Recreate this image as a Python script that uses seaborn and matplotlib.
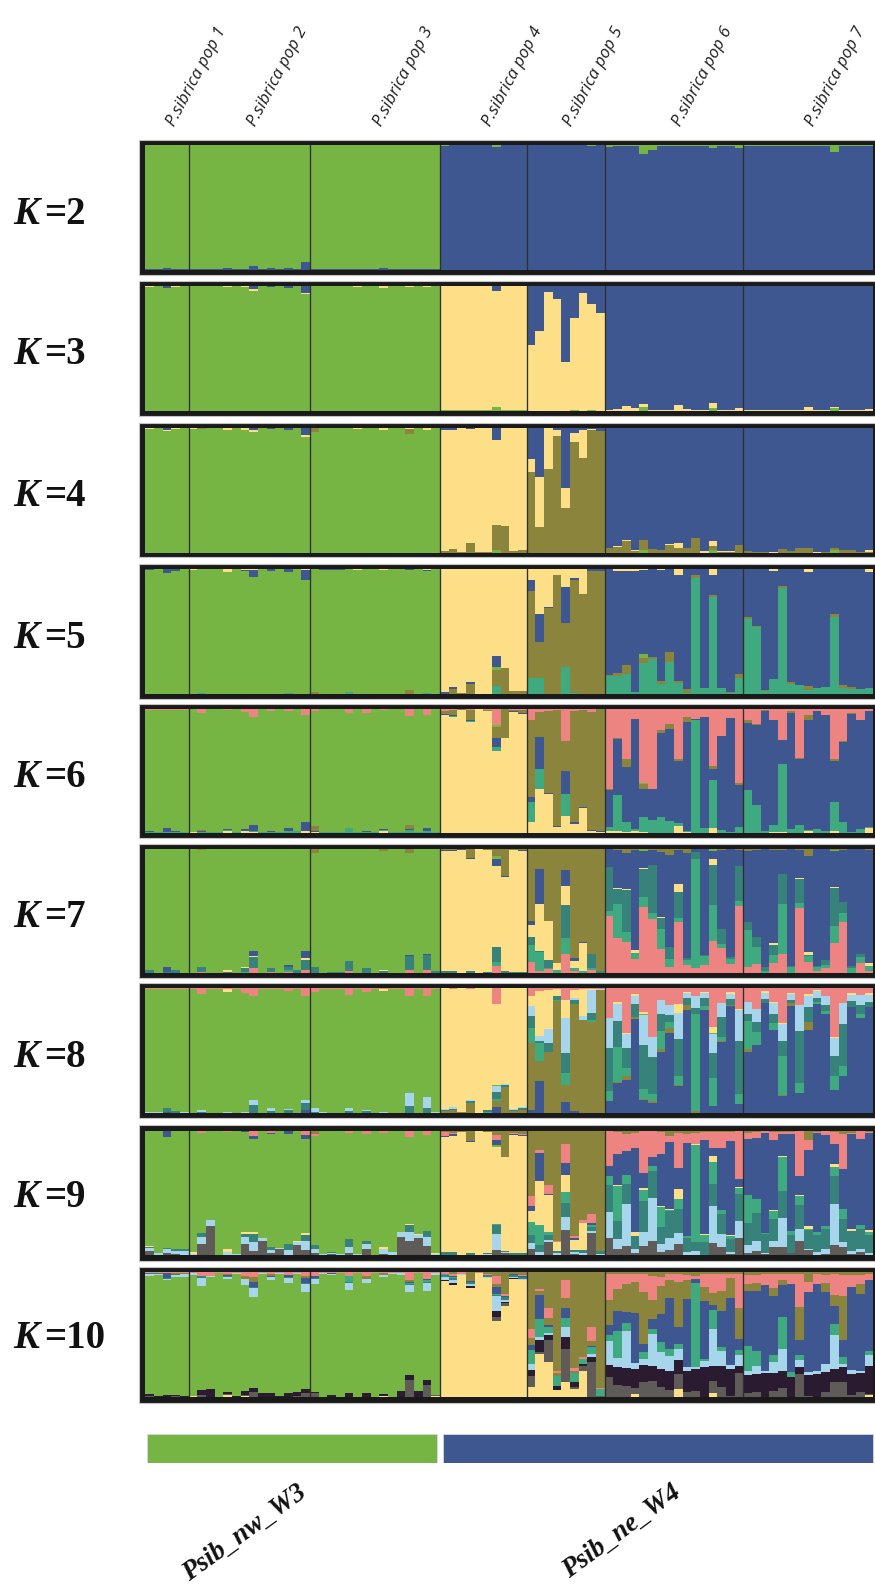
import matplotlib
matplotlib.use("Agg")
import matplotlib.pyplot as plt
from matplotlib.patches import Rectangle
import numpy as np
import pandas as pd
import seaborn as sns

pop_names = ["P.sibrica pop 1", "P.sibrica pop 2", "P.sibrica pop 3", "P.sibrica pop 4",
             "P.sibrica pop 5", "P.sibrica pop 6", "P.sibrica pop 7"]
pop_sizes = [5, 14, 15, 10, 9, 16, 15]
group_names = ["Psib_nw_W3", "Psib_ne_W4"]
group_sizes = [34, 50]

# ---- K=2
k2_blue = [.3,.3,1,.8,.3, .3,.3,.3,.3,1,.3,.5,2.5,.3,1,.3,1.2,.3,6, .5,.3,.3,.3,.3,.3,.3,.3,1.2,.3,.3,.8,.3,.8,.3,
           99.5,99.7,99.7,99.7,99.7,99.7,98.5,99.7,99.7,99.7, 99.7,99.7,99.7,99.7,99.7,99.7,99.7,99.2,99.7,
           98.5,99.5,99.5,99.5,93,96,99.5,99.5,99,99.5,99.5,99.5,97.5,99.5,99.5,97.5,
           99.5,98.8,99.5,99.5,98.8,99.5,99.5,99.5,99.5,99.5,94,99.5,99.5,99.5,99.5]
k2_green = [99.7,99.7,99,99.2,99.7, 99.7,99.7,99.7,99.7,99,99.7,99.5,97.5,99.7,99,99.7,98.8,99.7,94, 99.5,99.7,99.7,99.7,99.7,99.7,99.7,99.7,98.8,99.7,99.7,99.2,99.7,99.2,99.7,
            .5,.3,.3,.3,.3,.3,1.5,.3,.3,.3, .3,.3,.3,.3,.3,.3,.3,.8,.3,
            1.5,.5,.5,.5,7,4,.5,.5,1,.5,.5,.5,2.5,.5,.5,2.5,
            .5,1.2,.5,.5,1.2,.5,.5,.5,.5,.5,6,.5,.5,.5,.5]
# ---- K=3
k3_green = [99.2,99.4,98.2,99.2,99.4, 99.4,99.4,99.4,99.4,98.7,99.4,98.7,96,99.4,98.9,99.4,98,99.4,93,
            99.4,99.4,99.4,99.4,99.4,98.9,99.4,99.4,98.4,99.4,99.4,99.2,99.4,98.7,99.4,
            .2,.2,.2,.2,.2,.2,3,.2,.2,.2, 0,0,0,0,0,.5,0,.8,0,
            0,0,0,0,3,0,0,0,0,0,0,0,2,0,0,0, 0,0,0,0,0,0,0,0,0,0,2.5,0,0,0,0]
k3_yellow = [.3,.3,.3,.3,.3, .3,.3,.3,.3,1,.3,.8,1.5,.3,.3,.3,.5,.3,1.5, .3,.3,.3,.3,.3,.8,.3,.3,1.3,.3,.3,.3,.3,1,.3,
             99.3,99.5,99.5,99.5,99.8,99.8,92.5,99.7,99.8,99.5, 52.5,64,95,89,39,73.5,94.4,84.7,78.5,
             .5,1.5,4,2.5,2.5,.6,.5,.4,4.5,1,.3,.3,4,.3,.3,2, .3,.3,.3,.3,.8,.3,.3,3,.3,.3,.3,.3,.3,.3,1.5]
k3_blue = [.5,.3,1.5,.5,.3, .3,.3,.3,.3,.3,.3,.5,2.5,.3,.8,.3,1.5,.3,5.5, .3,.3,.3,.3,.3,.3,.3,.3,.3,.3,.3,.5,.3,.3,.3,
           .5,.3,.3,.3,0,0,4.5,.1,0,.3, 47.5,36,5,11,61,26,5.6,14.5,21.5,
           99.5,98.5,96,97.5,94.5,99.4,99.5,99.6,95.5,99,99.7,99.7,94,99.7,99.7,98,
           99.7,99.7,99.7,99.7,99.2,99.7,99.7,97,99.7,99.7,97.2,99.7,99.7,99.7,98.5]
# ---- K=4
k4_green = [99,99.4,97.4,99,99.4, 99,98.4,99.7,99.7,98,99.7,98.5,96.5,99.7,98.9,99.7,98,99.7,92.5,
            96.7,99.5,99.5,99.5,99.5,99.2,99.7,99.7,98.2,99.7,99.7,94.7,99.7,98.2,99.7,
            0,0,0,0,0,0,2.5,0,0,0, 0,0,0,0,0,0,0,0,0,
            0,0,0,0,2.5,0,0,0,0,0,0,0,2,0,0,0, 0,0,0,0,0,0,0,0,0,0,2,0,0,0,0]
k4_olive = [0,0,0,0,0, 0,.8,0,0,0,0,0,0,0,0,0,0,0,0, 3,0,0,0,0,0,0,0,0,0,0,4.5,0,0,0,
            1.5,3,.3,7.5,.5,.3,20,21,1,2.5, 64,21,67,91.5,36,88,75,98,97,
            4,4.5,9.5,1,7.5,3,2.5,6.5,3.5,3.5,12,0,3,.5,.5,6, 1.5,.3,.3,0,3,1,3.5,4,0,.3,2,2,2,.3,.5]
k4_yellow = [.3,.3,.3,.5,.3, 1,.5,.3,.3,2,.3,1,1.5,.3,.3,.3,.5,.3,2, .3,.3,.3,.3,.3,.8,.3,.3,1.8,.3,.3,.3,.3,1.5,.3,
             97,95.5,99.4,91.2,99.5,99.7,68,79,98.4,97.5, 10.5,39.5,32,5,15.5,7,23,1,.5,
             0,.5,.5,1,.5,0,0,.5,4,0,0,1,4,.5,.5,0, 0,0,0,.8,0,0,0,0,.5,0,0,0,0,0,1.5]
k4_blue = [.5,.3,2,.5,.3, 0,0,0,0,0,0,.5,2,0,.8,0,1.5,0,5.5, 0,.2,.2,.2,.2,0,0,0,0,0,0,.5,0,.3,0,
           1.5,1.5,.3,1.3,0,0,9.5,0,.6,0, 25,40,.5,1.5,48.5,4.5,1.5,1,2.5,
           96,95,90,98,89.5,97,97.5,93,92.5,96.5,88,99,91,99,99,94, 98.5,99.7,99.7,99.2,97,99,96.5,96,99.5,99.7,96,98,98,99.7,98]
# ---- K=5
k5_teal = [.3,.3,.3,.3,.3, .3,.8,.3,.3,.3,.3,.5,.5,.3,.3,.3,1,.5,.5, .3,.3,.3,.3,1.5,.3,.5,.3,.5,.3,.3,.5,.3,.8,.3,
           0,.3,0,.5,0,0,6.5,0,0,0, 13,13,.3,0,22,1,0,.5,0,
           14.7,15,16,1.5,25,28.5,8,26,9,1.3,93,5,77.5,5,1.3,13.4, 60,54,2.7,12.5,84.5,8.5,7.5,3.2,5,6,62,5.3,4.2,4.2,5]
k5_olive = [0,0,0,0,0, 0,0,0,0,0,0,0,0,0,0,0,0,0,0, 1.5,0,0,0,0,0,0,0,0,0,0,3,0,0,0,
            .5,4,.8,8,0,.5,12.5,21,2.4,3, 69,28.5,68.7,95,35,91,80,98,98,
            .5,2,7,.3,3.7,1,2.7,7.5,1.3,2.7,2,.3,2,0,.3,2.7, 1.6,.5,.7,0,1.8,1.5,0,3.5,0,0,2,2,1.5,0,0]
k5_green = [99.2,99.4,96.7,98.4,99.4, 99.2,98.9,99.5,99.5,97.2,99.5,96.7,93.5,99.5,98.5,99.5,96.7,99.3,91,
            97.9,99.2,99.2,99.2,98.3,99.2,99.3,99.5,98.5,99.5,99.5,95.6,99.5,97.7,99.5,
            0,0,0,0,0,0,2.7,0,0,0, 0,0,0,0,0,0,0,0,0,
            0,0,0,0,3.7,0,0,0,0,0,0,0,0,0,0,0, 0,0,0,0,0,0,0,0,0,0,0,0,0,0,0]
k5_blue = [.5,.3,3,1,.3, 0,0,0,0,0,0,1,5,0,1,0,2,0,8, 0,.3,.3,.3,0,0,0,0,0,0,0,.7,0,.5,0,
           1.5,1.3,0,1,0,0,9,0,.3,0, 9,22.7,1,.5,29,1.5,0,1.5,1.5,
           84.5,81.5,75.5,96.4,66.6,70.2,88.5,66.2,85.2,95.7,5,94.4,15.5,94.7,98.1,83.9,
           38.1,45.2,96.3,86,13.4,89.7,92.2,91.3,94.7,93.7,35.7,92.4,94,95.5,93]
k5_yellow = [0,0,0,.3,0, .5,.3,.2,.2,2.5,.2,.8,1,.2,.2,.2,.3,.2,.5, .3,.2,.2,.2,.2,.5,.2,.2,1,.2,.2,.2,.2,1,.2,
             98,94.4,99.2,90.5,100,99.5,69.3,79,97.3,97, 8.5,36,30,4.5,14,7,20,0,0,
             .3,1.5,1.5,1.8,1,.3,.8,.3,4.5,.3,0,.3,5,.3,.3,0, .3,.3,.3,1.5,.3,.3,.3,2,.3,.3,.3,.3,.3,.3,2]
# ---- K=6
k6_yellow = [0,0,0,0,0, .3,0,0,0,1.5,0,1,.5,0,0,0,0,0,1, .5,0,0,0,0,0,0,0,1.5,0,0,0,0,0,0,
             95,93.5,99,89.5,100,98.5,66,76.7,97.5,96, 8.7,35,31,5,13.5,6.8,20,1.5,.5,
             1.3,1,.5,1.5,.5,0,0,0,5.4,.3,0,0,4,0,0,0, 0,0,0,.5,.3,0,0,1.3,0,0,1,0,0,0,3.5]
k6_teal = [.3,.3,.3,.5,.3, .3,.3,.3,.3,.3,.3,.5,1,.3,.3,.3,1.5,1,.5, .3,.3,.3,.3,3.5,.3,.5,.3,.3,.3,.3,2.5,.3,1.5,.3,
           0,.5,0,1,0,0,3.3,0,0,0, 15.7,16,.5,0,18,0,0,0,0,
           3.5,29,8,1.5,12.5,10.5,13,9.5,2.7,1.3,91,4,38.5,2,.5,4.6, 34.7,23,1,6,55,3,6,1,2.7,1,23.5,8.7,.5,2.7,1]
k6_blue = [1,.5,3.5,1,.5, .3,1,.3,.3,1,.3,1.5,4.5,.3,1,.3,2,.3,7, .5,.3,.5,.5,.3,.3,.8,.3,1,.3,.3,.3,.3,2,.3,
           1.3,1.3,0,.5,0,0,7.6,0,.5,.5, 4,26,.5,.5,18,2.2,.5,1,.5,
           30,45,44,89.5,23,25,67.5,74.5,49.6,88,.8,89.5,9,76,92,34, 54.7,65,97.5,85,20,93.5,53.5,89,95.7,94,33,64.5,96,88.6,94]
k6_olive = [0,0,0,0,0, 0,.5,0,0,0,0,0,0,0,0,0,0,0,0, 4,0,0,0,0,0,0,0,0,0,0,3.5,0,0,0,
            2.2,3.5,1,8.5,0,.8,8.7,23.3,1.5,3, 62.3,20,66,94,24,89,79,95,99,
            .5,1.3,6,0,3.5,0,2.7,4,2,4,0,0,2,0,0,1.6, 2,1,1,0,0,1,.5,4.3,0,0,2,1,1,0,0]
k6_green = [98.2,98.7,95.7,98,98.7, 99.1,95.2,99.1,99.1,96.2,99.1,94.5,87.5,99.1,96.4,99.1,94.2,98.4,86.5,
            92.7,99.1,98.9,98.9,92.9,99.1,95.5,99.1,96.7,99.1,99.1,87.9,99.1,91.2,99.1,
            0,0,0,0,0,0,2,0,0,0, 0,0,0,0,0,0,0,0,0,
            0,0,0,0,1.3,0,0,0,0,0,0,0,0,0,0,0, 0,0,0,0,0,0,0,0,0,0,0,0,0,0,0]
k6_pink = [.5,.5,.5,.5,.5, .3,3,.3,.3,1,.3,2.5,6.5,.3,2,.3,2,.3,5, 2,.3,.3,.3,3,.3,3,.3,.5,.3,.3,5.5,.3,5,.3,
           1.5,1.2,0,.5,0,.7,12.7,0,.5,.5, 9,2.4,1.5,.5,26,2,.5,2.5,0,
           65,23,40,8,60,65,17,12,40,6.5,8,6.5,46,22,7,60, 9,12,.5,8.5,25,2,40,5,1.5,4.5,40,26,3,8.5,1.5]
# ---- K=7
k7_pink = [.3,0,.3,.3,0, 0,1,0,0,.3,0,0,4.5,0,1,0,1,0,3, .3,0,0,0,1.5,0,.5,0,.3,0,0,2.5,0,2.5,.3,
           .3,0,0,0,0,0,6,0,0,0, 9,1.5,3.7,.5,15.6,2,.5,3,0,
           46.5,28.5,24.7,11.6,53,43.5,19.6,4.8,40.9,7,4.3,7,25.8,20.4,7.5,53.8,
           5.4,7.5,0,8.3,15.9,.5,52.7,8.9,1.5,4.3,25,41,0,8.3,2]
k7_teal = [0,0,0,0,0, 0,0,0,0,0,0,1,0,0,0,0,2,0,0, 0,0,0,0,0,0,0,0,0,0,0,0,0,0,0,
           0,0,0,0,0,0,2.7,0,0,0, 13.5,16,.5,2,12.6,2,1.5,1.5,0,
           4,27.4,8.3,4.6,8,5.4,16,6.7,3.8,4,87.4,6.7,28.8,3.2,4,4.3,
           29,13.4,2,6.7,40,4.8,3.8,5.4,3.8,2.7,13.4,7.3,4.3,4.6,4]
k7_darkteal = [2.5,.5,.5,2,.5, .5,4,.5,.5,1,.5,3,9,.5,3,.5,2,2.5,8, 5,.5,.8,.8,8,.5,4,.3,1.5,.5,.5,11.5,.3,12,1.5,
               1.7,2,.5,2,0,1,12,1.5,1,1, 6.7,.5,6.5,0,27,0,0,11.3,1.6,
               35,12,33.6,.5,23,38,9,10,20.7,1.3,6,1,32.8,12,1.3,28,
               6.7,8,3.2,8,23.7,.8,19.6,.8,.8,3.8,31,8.9,1.6,2.7,0]
k7_yellow = [0,0,0,0,0, 0,0,0,0,1.5,0,.7,.5,0,0,0,0,0,1, 0,0,0,0,0,0,0,0,1,0,0,0,0,0,0,
             96,96,99,90,100,98,65.6,76,97.5,97, 9.4,37.4,31.7,5.4,15,6,22.6,0,0,
             0,.7,.7,2.1,.7,0,.5,0,6.7,0,0,0,4.8,0,0,0, 0,0,0,1.3,.5,0,.5,1.9,0,0,.5,0,0,0,2.2]
k7_blue = [0,0,4.5,.5,0, 0,0,0,0,0,0,.7,4,0,0,0,2,0,6, 0,0,0,0,0,0,0,0,0,0,0,.5,0,1,0,
           1.5,1.5,.5,.5,0,.5,5.4,.5,.5,.5, 3.5,28.5,0,0,12.6,2,.5,0,0,
           14.5,30,29,80.6,13,12.6,52.4,73.4,26.9,84.4,2.4,85,6.2,63.7,87,13.4,
           57,70.4,94.6,75,19.4,93.8,22.8,77.7,93.8,89,29.6,41.7,94,84.4,91]
k7_green = [97.2,99.5,94.7,97.2,99.5, 99.5,94,99.5,99.5,96.2,99.5,94.6,82,99.5,96,99.5,93,97.5,82,
            91.7,99.5,99.2,99.2,90.5,99.5,95.5,99.7,95.7,99.5,99.5,82.5,99.7,84.5,98.2,
            0,0,0,0,0,0,2,0,0,0, 0,0,0,0,0,0,0,0,0,
            0,0,0,0,2,0,0,0,0,0,0,0,1.5,0,0,0, 0,0,0,0,0,0,0,0,0,0,1,0,0,0,0]
k7_olive = [0,0,0,0,0, 0,1,0,0,0,0,0,0,0,0,0,0,0,0, 3,0,0,0,0,0,0,0,1.5,0,0,3,0,0,0,
            .5,.5,0,7.5,0,.5,6,22,.5,1, 58,16,57.5,92,17,87.6,75,85,97,
            0,1,3.2,.5,0,.5,2.4,5,.8,3.2,0,.3,0,.5,.2,.5, 1.6,.7,.2,.7,.5,.1,.5,5.4,.1,.2,.5,1,.1,0,.8]
# ---- K=8
k8_blue = [0,0,1,0,0, 0,0,0,0,0,0,0,.5,0,0,0,.5,0,3, 0,0,0,0,0,0,0,0,0,0,0,0,0,0,0,
           .3,.3,0,0,0,0,4.8,0,0,0, 2.7,25.8,0,0,8.9,2,0,0,0,
           10.2,24,27,75,10.8,8.6,48.4,64,21.8,82.8,0,82.8,5.6,56.7,85.5,7.5,
           49,54.6,88,66.7,13.7,85.5,16,66.7,87.6,79.6,18.8,29.6,85,76,85]
k8_olive = [0,0,0,0,0, 0,0,0,0,0,0,0,0,0,0,0,0,0,0, 0,0,0,0,0,0,0,0,0,0,0,0,0,0,0,
            1.2,2,1,8,0,.3,5.4,21,2,2.7, 53.8,15.6,49,90,13.4,84.7,74.7,72.6,98.4,
            0,.5,3.2,1.6,1,1,2.7,4.6,.5,3.5,2,0,.5,1,1,0, 2.4,0,0,0,1,2.7,0,6.7,0,0,0,0,0,0,0]
k8_teal = [0,0,0,0,0, 0,0,0,0,0,0,0,0,0,0,0,0,0,0, 0,0,0,0,0,0,0,0,0,0,0,0,0,0,0,
           0,0,0,0,0,.7,1.3,0,0,0, 12,15,0,.5,10,.5,0,1.3,0,
           8,28,6.2,0,8,6,14,4.8,7.5,0,77.4,2.7,22,3.5,0,8, 22,10.2,0,5.4,31,0,8.3,0,2,2.4,11.3,8,0,3.5,0]
k8_darkteal = [.5,.5,3,1.5,.5, .3,1,.3,.3,.3,.3,.5,6,.3,1.5,.3,2,.3,5, 1,.3,.3,.3,2,.3,1.5,.3,.3,.3,.3,6,.3,4,.3,
               .8,1,0,1.5,0,1.5,5.4,1.3,.8,1.5, 8.9,1.6,7.3,3,16,2.7,0,5.6,.3,
               33.6,21,15.6,10.8,35,29,14,5.4,29.3,5.4,5,6.2,20,15.6,4.8,42.5,
               6.2,8.6,3.2,7.5,12.6,2,41.7,11.6,3.2,4.8,15.6,33,4.6,7.3,3.8]
k8_lightblue = [.3,.3,.3,.5,.3, .3,2,.3,.3,.5,.3,.3,4,.3,2.5,.3,1,.3,3, 3.5,.5,.3,.3,2.5,.3,1.5,.3,.5,.3,.3,10.5,.3,9,1,
                1.5,1.5,0,1,0,0,4.8,1.3,.8,.5, 8,3.8,10.7,0,27.4,1.6,3.2,18.8,.5,
                24.2,13.4,11.6,6,24,16,10.8,7.8,21.5,4.6,9.4,4.6,15,11.3,4,24.7,
                9,10,5.4,8.6,13.4,5,20.4,8.6,5.4,6.7,14.2,16.7,5.4,7.5,5.6]
k8_green = [98.7,98.9,95.2,97.5,98.7, 99.1,92.5,99.1,99.1,96.4,99.1,95.2,83,99.1,95.5,99.1,94,99.1,82.5,
            92.5,98.9,99.1,99.1,90.5,99.1,94,99.1,97.4,99.1,99.1,77.5,99.1,80.5,98.4,
            0,0,0,0,0,0,1.3,0,0,0, 0,0,0,0,0,0,0,0,0,
            0,0,0,0,1,0,0,0,0,0,0,0,1,0,0,0, 0,0,0,0,0,0,0,0,0,0,0,0,0,0,0]
k8_yellow = [0,0,0,0,0, 0,0,0,0,2.5,0,.5,0,0,0,0,0,0,0, 0,0,0,0,0,0,0,0,1.5,0,0,0,0,0,0,
             96,95,99,89.5,100,97.5,64.5,76.4,96.4,95.3, 8,36,31,6,14,6.5,21.8,.5,.3,
             .5,1.3,.5,1.9,1.4,.5,.5,0,7,.5,0,.5,4.8,0,1.3,.5, .5,0,1,.5,.8,.8,0,1.9,1,0,1.3,0,1,.5,1.9]
k8_pink = [.5,.3,.5,.5,.5, .3,4.5,.3,.3,.3,.3,3.5,6.5,.3,.5,.3,2.5,.3,6.5, 3,.3,.3,.3,5,.3,3,.3,.3,.3,.3,6,.3,6.5,.3,
           0,.2,0,.5,0,0,12.4,0,0,0, 6.5,2,1.6,.5,9.7,1.6,.3,.5,.5,
           23.4,11,36,4.6,18.8,38.7,9,13.4,12.4,3,6,3,30.6,11.8,3.2,16.7,
           10.7,16.7,2.5,11.3,28,3.8,13.4,4.6,1,6.5,38.7,11.8,4,5,3.8]
# ---- K=9
k9_gray = [3.2,0,2,.5,0, 0,8.5,23.6,0,0,0,8.8,3.2,11.3,2,4.5,0,8,4, 2,0,.5,0,1.3,0,4.8,0,1,0,14.7,11.5,14,7.5,0,
           0,0,0,0,0,0,3.8,2,0,0, 4.9,0,10.3,0,19.7,1,0,17.6,0,
           13.5,4.9,7.6,2,7,11.6,2.7,4.3,8.9,0,0,0,9.7,6.2,.5,13.8, 2,3.2,1,6.2,6.2,1.6,11.6,4,0,.5,8,6.2,.8,2,0]
k9_lightblue = [2.7,2,2.7,2.5,3, .5,6,4.5,0,2.5,1,5.9,7.5,2,1.9,.8,4.3,2.7,7.5, 3.2,.5,.8,1,5.4,.5,3.8,0,3.8,2.7,3.5,6.7,2,7.2,.5,
                0,0,0,0,0,.5,12.7,.5,0,0, 4.9,2.7,2,1.6,10.8,1.3,2,1.4,.5,
                21,8,33.2,2.7,11.3,34.3,6.2,9.5,8.9,2,3.5,0,30,10.8,2,13.5,
                6.2,8.4,.5,5.4,23.5,0,9.5,.5,2,4,32.4,4,2.7,2.7,1.6]
k9_darkteal = [.8,0,1.3,2,1.5, 0,3.5,0,0,0,0,1.9,6,0,2.7,0,4.5,0,4.5, 2.7,0,1,0,6,0,2.7,0,0,0,0,5.9,0,4.5,0,
               2.5,2.5,0,2,0,1,7.3,1,1.3,1.3, 6.5,5.7,3.8,1.9,11.6,2,2,3.5,2.7,
               21.6,14,16,10.8,24.9,21.6,13.5,21.4,19.5,11.4,6.8,10.3,17.6,16,10.8,22,
               17.3,22.4,15,17.6,21.6,14.6,18.9,16,14,16,23,18.4,15.4,16,14]
k9_teal = [0,0,0,0,0, 0,0,0,0,0,0,0,0,0,0,0,0,0,0, 0,0,0,0,0,0,0,0,0,0,0,0,0,0,0,
           0,0,0,0,0,0,1,0,0,0, 10.3,16,2,0,8.6,0,0,1.9,0,
           7.3,28.4,7.6,0,8.9,4,16,.8,7.6,2,78,6,17.6,2.7,2,4.6, 23,10.8,.8,6,27,2.7,7.3,.5,2,2.7,7.3,8.6,0,3.2,2.7]
k9_yellow = [.8,0,0,0,0, 1.8,0,0,0,2,0,2,1.5,0,0,0,0,.5,2, 0,0,0,0,0,.5,0,0,1.9,0,.5,.5,.5,.5,1.5,
             92,92,99,89,100,97,62,75.7,95,94, 9,35,30,6.8,13.5,7.6,22.4,0,0,
             0,.8,0,2.7,2.2,0,.8,.8,7.8,0,.5,.5,4.6,0,.5,.5, 0,0,0,1.3,1.3,0,.5,2.2,0,0,1.9,0,1.6,0,1.6]
k9_green = [92,97.7,88.5,94.5,95, 97.4,80.5,71.6,99.7,94.5,98.7,80.4,74.6,86.4,90.6,94.4,88.8,88.5,75.8,
            88,99,97.5,98.5,85.3,98.7,86.3,99.7,91.8,97,81,70.4,83.2,76.8,97.7,
            0,0,0,0,0,0,1.5,0,0,0, 0,0,0,0,0,0,0,0,0,
            0,0,0,0,0,0,0,0,0,0,0,0,0,0,0,0, 0,0,0,0,0,0,0,0,0,0,0,0,0,0,0]
k9_blue = [0,0,4.5,0,0, 0,0,0,0,0,0,.5,2.7,0,.8,0,1.9,0,3.5, 0,0,0,0,0,0,0,0,0,0,0,0,0,0,0,
           1,1,0,.5,0,0,3.5,0,.8,.5, 3.8,23,.5,0,9.5,1.9,0,1,0,
           8.4,24.9,18.9,68,11.9,7.6,41.6,54,17,74,.5,75,6.2,50,76.5,7,
           44.9,49,81,55.7,17.6,78,15.7,62,79,71,16,31.9,76.2,68.4,77.3]
k9_pink = [.5,.3,.5,.5,.5, .3,1.5,.3,.3,1,.3,.5,4,.3,2,.3,.5,.3,3.2, 1.4,.3,.3,.3,2,.3,2.4,.3,1.5,.3,.3,5,.3,3.5,.3,
           3,1.5,0,0,0,0,4.6,.5,.8,.5, 8,2.2,7.3,.5,15.4,1.6,1.9,7.6,0,
           28,17.8,14,12.2,33.8,20.8,17.8,4.6,28.4,7.3,9,6.8,13.5,13,7.3,38.4,
           4.6,4.9,1,6.8,1.5,2,36,8,1,3.2,9.7,28,.5,6.2,1]
k9_olive = [0,0,0,0,0, 0,0,0,0,0,0,0,0,0,0,0,0,0,0, 2.7,0,0,0,0,0,0,0,0,0,0,0,0,0,0,
            1,1.5,1,8.5,0,1,3.2,21,1.5,3, 52.7,15.4,43,88.4,10.8,83.5,73,66.8,97,
            0,1,2.7,1.5,0,0,1,4.6,1.9,2.7,1.5,1,.8,1,.8,0, 1.9,1,.5,1,1,1,0,7.3,1,.5,1,2.7,2,.5,1]
# ---- K=10
k10_yellow = [0,0,0,0,0, 1,0,0,0,2,0,1,0,0,0,0,0,.5,0, 0,0,0,0,0,0,0,0,1,0,0,0,0,0,1.3,
              90.4,89.6,96.8,86,98.5,95,61,74.3,94,93, 8.6,34.8,28,5.9,12,6.7,21.4,0,0,
              .5,0,.5,2.7,0,0,0,0,6.7,0,0,0,3.2,0,0,0, 0,0,0,0,0,0,0,.5,0,0,0,0,0,0,2]
k10_gray = [1,.3,.5,1,.3, 0,2,.5,.3,.5,.3,.5,4,.3,.5,.3,.3,.3,3.2, 3.5,0,.3,0,.5,0,.3,0,.3,0,0,13.5,.3,10,.3,
            0,0,0,0,0,0,3.2,3,0,0, 8,1.3,17.4,0,26.7,1.3,4,28,1.3,
            15.5,10.2,8.3,4.8,12,13.4,8,5.9,12,4,4.8,.3,10.2,8.6,1.3,19.3,
            3.2,4.3,.5,5.3,7.5,.5,18.7,.5,.5,4,12,12,2,4,.5]
k10_black = [1.5,.5,1,1,.8, .3,3.5,6.5,.3,1.6,.5,3.5,3.2,3.2,2.7,.8,3.2,3.2,3.5, 1,.3,1.5,.3,3.2,.5,3.2,.3,1.5,.5,5.4,4,4.9,3.5,.3,
             1,1.3,0,2,0,0,4.8,1,1.2,0, 5.3,9.9,4.5,3.5,9.4,4,1.3,4.5,0,
             10,14,14.7,15,14.2,12,14.7,15.5,10.7,17.4,17.9,23.5,12,16.8,21.4,5.3,
             15,14.4,18.7,13.9,13.9,16,5.3,16.8,18.2,16,10.7,12,16.6,15,22.7]
k10_green = [94.8,97.7,92,94.3,95.2, 96.6,83.8,88.5,98.8,90.9,97.9,84.5,69.5,95.5,90.8,97.9,87.7,95,77.9,
             85.5,98.7,95.6,99.1,81.8,98.9,84.5,99.1,93.2,97.9,92.8,67.1,94,71.6,96.6,
             0,0,0,0,0,0,0,0,0,0, 0,0,0,0,0,0,0,0,0,
             0,0,0,0,0,0,0,0,0,0,0,0,0,0,0,0, 0,0,0,0,0,0,0,0,0,0,0,0,0,0,0]
k10_lightblue = [1.5,1,1.5,1.5,2, 1.5,6.2,1,.3,1.5,1,4.5,7.3,.5,2,.5,4.3,.5,6.2, 3.8,.5,1,.3,6,.3,3,.3,1.5,1,1,4.9,.3,6.5,1.5,
                 2,2,1,1,0,1,12.8,1,.5,1, 4.8,2.1,1.3,0,8,.5,0,2,0,
                 19.3,7,29.4,4.5,4.5,25.4,13.4,12,8.8,3.2,1.3,5.3,28.9,11.5,3.2,8.8,
                 3.2,5.9,1.3,8.8,17.4,0,5.9,1.9,2.1,6.7,26.7,2.7,3.2,2,8.5]
k10_darkteal = [.5,.5,.5,.5,.5, .3,1.3,.3,0,.5,0,.5,1,0,.5,0,.5,0,1, 1,0,.3,0,1,0,.5,0,.3,.3,.3,1,0,1,0,
                2,2,0,2,0,1,.5,2.7,1.2,1, 0,0,0,0,0,0,0,0,0,
                0,0,0,0,0,0,0,0,0,0,0,0,0,0,0,0, 0,0,0,0,0,0,0,0,0,0,0,0,0,0,0]
k10_teal = [0,0,0,0,0, 0,0,0,0,0,0,0,0,0,0,0,0,0,0, 0,0,0,0,4.3,0,0,0,0,0,0,1,0,1.5,0,
            .5,.5,0,0,0,0,.5,0,0,0, 11.2,14.7,5.3,8,7.5,6.7,4,5.3,5.3,
            4.5,22,5.9,.5,5.3,4,8,5.3,4.5,0,67.4,1.3,15.2,3.2,0,4, 20,12.3,0,6.1,25.4,4,4.3,0,0,0,8.8,5.3,0,0,3.5]
k10_blue = [0,0,3.8,0,0, 0,0,0,0,.5,0,0,3.2,0,.5,0,2,0,4, 1.5,0,.3,0,0,0,0,0,0,0,0,1,0,.5,0,
            .5,1,0,.5,0,0,5.9,1,1,1, 3.5,18.7,1.6,0,8,0,0,.8,0,
            8.3,16,8.8,39.6,6.7,8,22.7,40.9,13.4,53.7,2.7,46.8,4,28.9,53.7,8.8,
            43.6,48,69,46.5,25.4,69.8,11.8,64,69.5,57.5,14.4,13.9,66.3,61.5,57]
k10_olive_low = [0,0,0,1,.5, 0,0,0,0,1.5,0,2,4.3,0,1.5,0,0,0,1, 0,0,0,0,0,0,2,0,1.5,0,0,1,0,0,0,
                 0,0,0,0,0,0,2.7,0,0,0, 6,3.5,5,2,8,1.5,0,4,0,
                 19.3,17.4,22,24.6,41.4,14.7,22,13.9,36,15.8,0,10.7,9.9,16,16,25,
                 5.9,6.4,0,7,4.5,0,26.2,0,0,7.2,8.8,34.8,0,8,0]
k10_pink = [.7,.5,.7,.7,.7, .3,3.2,2.7,.3,1,.3,3,3.5,.5,1.5,.5,2,.5,3.2, 3.2,.5,.7,.3,3.2,.3,3,.3,.7,.3,.5,6.5,.5,5.4,.5,
            1,1.5,1,0,.5,1,5.9,1.6,0,1, 7.2,1.6,7.8,1.3,13.9,2.4,1.9,11.2,.5,
            20.9,11.5,8,6.2,14.2,19.3,7.5,4.8,6.1,3.5,2.7,10.2,15,13.4,2.7,27,
            6.7,6.1,8.8,10.7,4.3,8,26.2,7.5,8,6.1,16.8,16.8,9.4,6.7,4.3]
k10_olive_top = [0,0,0,0,0, 0,0,0,0,0,0,0,0,0,0,0,0,0,0, 0,0,0,0,0,0,0,0,0,0,0,0,0,0,0,
                 0,1.5,0,7,0,1.5,3.2,17.6,1.5,2, 45,13.4,28.9,79.4,6.4,76.7,67.6,43.8,91.4,
                 1.6,1.6,1.6,1.6,1.6,3.2,3.7,1.6,1.6,2.4,3,1.6,1.6,1.6,1.6,1.6,
                 2.4,2.4,1,1.6,1.6,1.6,1.6,8,1.6,2.4,1.6,2.4,2.4,2.4,1.6]

# components of each panel, bottom of the stack first
panels = {
    2: {"blue": k2_blue, "green": k2_green},
    3: {"green": k3_green, "yellow": k3_yellow, "blue": k3_blue},
    4: {"green": k4_green, "olive": k4_olive, "yellow": k4_yellow, "blue": k4_blue},
    5: {"teal": k5_teal, "olive": k5_olive, "green": k5_green, "blue": k5_blue, "yellow": k5_yellow},
    6: {"yellow": k6_yellow, "teal": k6_teal, "blue": k6_blue, "olive": k6_olive, "green": k6_green, "pink": k6_pink},
    7: {"pink": k7_pink, "teal": k7_teal, "darkteal": k7_darkteal, "yellow": k7_yellow, "blue": k7_blue,
        "green": k7_green, "olive": k7_olive},
    8: {"blue": k8_blue, "olive": k8_olive, "teal": k8_teal, "darkteal": k8_darkteal, "lightblue": k8_lightblue,
        "green": k8_green, "yellow": k8_yellow, "pink": k8_pink},
    9: {"gray": k9_gray, "lightblue": k9_lightblue, "darkteal": k9_darkteal, "teal": k9_teal, "yellow": k9_yellow,
        "green": k9_green, "blue": k9_blue, "pink": k9_pink, "olive": k9_olive},
    10: {"yellow": k10_yellow, "gray": k10_gray, "black": k10_black, "green": k10_green, "lightblue": k10_lightblue,
         "darkteal": k10_darkteal, "teal": k10_teal, "blue": k10_blue, "olive": k10_olive_low, "pink": k10_pink,
         "olive2": k10_olive_top},
}

colors = {"green": "#76B443", "blue": "#3F5791", "yellow": "#FCDF87", "olive": "#8A843C", "olive2": "#8A843C",
          "teal": "#3FA97F", "darkteal": "#37837C", "pink": "#EE8482", "lightblue": "#A7D6EC",
          "gray": "#5E5B58", "black": "#2B1B31"}

# outer top, inner top, inner bottom, outer bottom (pixels)
rows = {2: (140, 145, 269.5, 275), 3: (280.7, 285.7, 410.7, 416), 4: (422.7, 427.7, 552.7, 557.3),
        5: (564.3, 569, 694.3, 699.3), 6: (704.3, 709, 832.7, 837.7), 7: (844, 849, 973.3, 978.3),
        8: (983.3, 988.3, 1113.3, 1118.3), 9: (1125, 1130.7, 1255, 1260.7), 10: (1266.7, 1272.3, 1397.3, 1402.7)}
label_nudge = {9: -2, 10: -3}

W, H = 875, 1584
X0, BAR = 145.2, 8.67
sns.set_theme(style="white")
fig = plt.figure(figsize=(W / 100, H / 100), dpi=100, facecolor="white")


def px_axes(x0, y0, x1, y1):
    return fig.add_axes([x0 / W, 1 - y1 / H, (x1 - x0) / W, (y1 - y0) / H])


bounds = np.cumsum(pop_sizes)
for k, comps in panels.items():
    top_o, top_i, bot_i, bot_o = rows[k]
    fig.add_artist(Rectangle((138.5 / W, 1 - bot_o / H), (W + 5 - 138.5) / W, (bot_o - top_o) / H,
                             transform=fig.transFigure, facecolor="#1A1A1A", edgecolor="#C4C4C4",
                             linewidth=0.8, zorder=-1))
    ax = px_axes(X0, top_i, W, bot_i)
    df = pd.DataFrame([{"ind": i, "q": v, "comp": name}
                       for name, vals in comps.items() for i, v in enumerate(vals)])
    for name, vals in comps.items():
        assert len(vals) == 84, (k, name, len(vals))
    order = list(comps.keys())[::-1]
    sns.histplot(data=df, x="ind", weights="q", hue="comp", hue_order=order, multiple="fill", discrete=True,
                 shrink=1, palette=colors, alpha=1, linewidth=0, legend=False, ax=ax)
    for p in ax.patches:
        p.set_antialiased(False)
    ax.set_xlim(-0.5, (W - X0) / BAR - 0.5)
    ax.set_ylim(0, 1)
    ax.set_facecolor(colors["blue"])
    ax.set_axis_off()
    ax.patch.set_visible(True)
    for b in bounds[:-1]:
        ax.axvline(b - 0.5, color="#2E2E2E", lw=0.95, zorder=5)
    cy = (top_o + bot_o) / 2 + 16 + label_nudge.get(k, 0)
    fig.text(13.5 / W, 1 - cy / H, "K", fontfamily="Liberation Serif", fontweight="bold", fontstyle="italic",
             fontsize=28, color="#111111", va="baseline", ha="left")
    fig.text(44 / W, 1 - cy / H, f"={k}", fontfamily="Liberation Serif", fontweight="bold",
             fontsize=28, color="#111111", va="baseline", ha="left")

# population labels
label_x = [174, 255, 381, 490, 571, 680, 813]
for name, x in zip(pop_names, label_x):
    fig.text(x / W, 1 - 127 / H, name, rotation=62, rotation_mode="anchor", ha="left", va="baseline",
             fontfamily="Open Sans", fontstyle="italic", fontsize=12.2, color="#1E1E1E", clip_on=False)

# group strip
strip = px_axes(X0, 1434, W, 1462.5)
lefts = [0.2, group_sizes[0] + 0.35]
widths = [group_sizes[0] - 0.6, group_sizes[1] - 0.35]
strip.barh([0, 0], widths, left=lefts, height=1, color=[colors["green"], colors["blue"]],
           edgecolor="#D5D9E5", linewidth=0.6)
strip.set_xlim(0, (W - X0) / BAR)
strip.set_ylim(-0.5, 0.5)
strip.set_axis_off()

# group labels
for name, (x, y, rot) in zip(group_names, [(189, 1581, 36), (569, 1578, 36.5)]):
    fig.text(x / W, 1 - y / H, name, rotation=rot, rotation_mode="anchor", ha="left", va="baseline",
             fontfamily="Liberation Serif", fontweight="bold", fontstyle="italic", fontsize=19.5, color="#111111")

fig.savefig("out.png", dpi=100, facecolor="white")
